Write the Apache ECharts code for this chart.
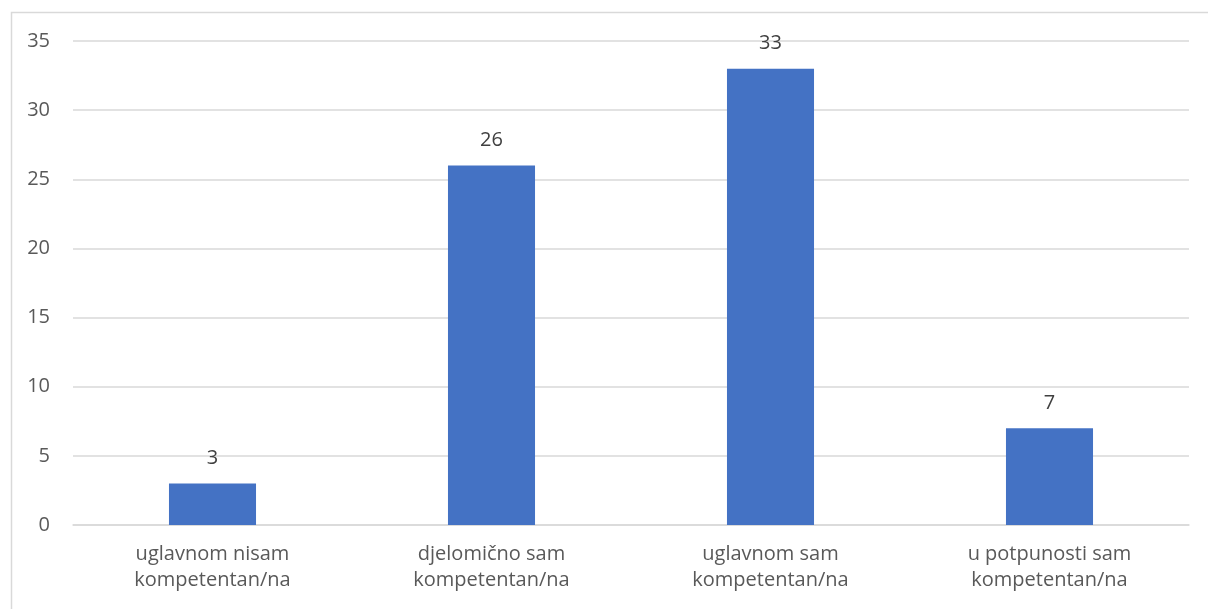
<!DOCTYPE html>
<html>
<head>
<meta charset="utf-8">
<script src="https://cdn.jsdelivr.net/npm/echarts@6/dist/echarts.min.js"></script>
<style>
html,body{margin:0;padding:0;background:#fff;}
#c{width:1208px;height:609px;}
</style>
</head>
<body>
<div id="c"></div>
<script>
const categories = ['uglavnom nisam\nkompetentan/na', 'djelomično sam\nkompetentan/na', 'uglavnom sam\nkompetentan/na', 'u potpunosti sam\nkompetentan/na'];
const values = [3, 26, 33, 7];
const yTicks = [0, 5, 10, 15, 20, 25, 30, 35];

const chart = echarts.init(document.getElementById('c'), null, {renderer: 'canvas'});
const font = '"Open Sans", sans-serif';
chart.setOption({
  animation: false,
  textStyle: {fontFamily: font},
  graphic: [{
    type: 'rect', left: 9, top: 10,
    shape: {width: 1400, height: 800},
    style: {fill: 'none', stroke: '#d9d9d9', lineWidth: 1.5},
    z: -1
  }],
  grid: {left: 73, right: 19, top: 41, bottom: 84, containLabel: false},
  xAxis: {
    type: 'category',
    data: categories,
    axisLine: {lineStyle: {color: '#d9d9d9', width: 1.5}},
    axisTick: {show: false},
    axisLabel: {color: '#595959', fontSize: 20, lineHeight: 26, margin: 16, fontFamily: font, interval: 0}
  },
  yAxis: {
    type: 'value',
    min: yTicks[0], max: yTicks[yTicks.length - 1], interval: 5,
    axisLine: {show: false},
    axisTick: {show: false},
    splitLine: {lineStyle: {color: '#d9d9d9', width: 1.5}},
    axisLabel: {color: '#595959', fontSize: 20, margin: 23, fontFamily: font}
  },
  series: [{
    type: 'bar',
    data: values,
    barWidth: '31.2%',
    itemStyle: {color: '#4472C4'},
    label: {show: true, position: 'top', distance: 15, color: '#404040', fontSize: 20, fontFamily: font}
  }]
});
</script>
</body>
</html>
